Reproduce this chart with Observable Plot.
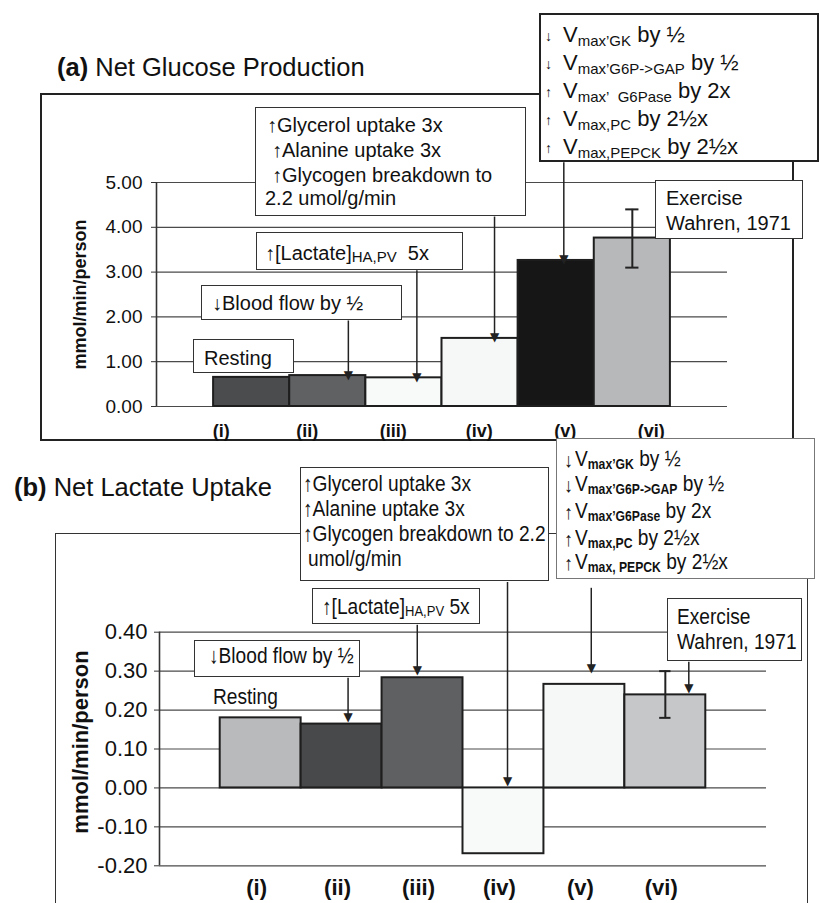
<!DOCTYPE html>
<html><head><meta charset="utf-8">
<script src="https://cdn.jsdelivr.net/npm/d3@7"></script>
<script src="https://cdn.jsdelivr.net/npm/@observablehq/plot@0.6"></script>
<style>
body{margin:0;background:#fff;font-family:"Liberation Sans",Arial,Helvetica,sans-serif;color:#111;}
#fig{position:relative;width:819px;height:903px;overflow:hidden;background:#fff;}
.box{position:absolute;background:#fff;box-sizing:border-box;border-style:solid;}
.t{position:absolute;white-space:nowrap;line-height:1;}
.n{transform:scaleX(0.87);transform-origin:0 0;}
.frame{position:absolute;box-sizing:border-box;border-style:solid;z-index:0;}
svg{position:absolute;left:0;z-index:1;}
</style></head><body><div id="fig"></div>
<script>
// ---------- data ----------
const categories = ["(i)", "(ii)", "(iii)", "(iv)", "(v)", "(vi)"];
const glucoseValues = [0.65, 0.69, 0.64, 1.52, 3.26, 3.76];   // mmol/min/person
const glucoseError = [3.10, 4.40];                              // (vi) low / high
const glucoseTicks = [0, 1, 2, 3, 4, 5];
const lactateValues = [0.18, 0.164, 0.283, -0.169, 0.266, 0.239];
const lactateError = [0.18, 0.30];
const lactateTicks = [-0.2, -0.1, 0, 0.1, 0.2, 0.3, 0.4];

// ---------- styles ----------
const colorsA = ["#4b4c4e", "#606163", "#f8f9f9", "#f6f7f7", "#161616", "#b7b8ba"];
const colorsB = ["#b9babc", "#48494b", "#5f6062", "#f8fafa", "#f6f8f8", "#c6c7c9"];
const FONT = "'Liberation Sans', Arial, Helvetica, sans-serif";

const fig = document.getElementById("fig");
const rowsA = categories.map((c, i) => ({c, i, v: glucoseValues[i]}));
const rowsB = categories.map((c, i) => ({c, i, v: lactateValues[i]}));
const iVI = categories.indexOf("(vi)") + 0.5;

// annotation arrows (box bottom -> bar)
const arrowsA = [
  {x: 1.77, y1: 1.92, y2: glucoseValues[1]},
  {x: 2.67, y1: 3.04, y2: glucoseValues[2]},
  {x: 3.69, y1: 4.24, y2: glucoseValues[3]},
  {x: 4.60, y1: 5.45, y2: glucoseValues[4]}
];
const arrowsB = [
  {x: 1.58, y1: 0.283, y2: 0.18},
  {x: 2.435, y1: 0.419, y2: 0.30},
  {x: 3.55, y1: 0.529, y2: 0.016},
  {x: 4.585, y1: 0.514, y2: 0.306},
  {x: 5.79, y1: 0.324, y2: 0.254}
];
const arrowMarks = (arr) => [
  Plot.link(arr, {x1: "x", x2: "x", y1: "y1", y2: "y2", stroke: "#222", strokeWidth: 1.5}),
  Plot.text(arr, {x: "x", y: "y2", text: () => "▼", fontSize: 12, lineAnchor: "bottom", dy: 3, fill: "#222", fontFamily: "'DejaVu Sans', sans-serif"})
];

const plotA = Plot.plot({
  width: 819, height: 445,
  marginLeft: 156, marginRight: 92, marginTop: 182, marginBottom: 39,
  style: {background: "transparent", overflow: "visible", fontFamily: FONT, color: "#111"},
  x: {domain: [-0.75, 6.75], axis: null},
  y: {domain: [0, 5]},
  marks: [
    Plot.ruleY(glucoseTicks, {stroke: "#4a4a4a", strokeWidth: 1.2}),
    Plot.rect(rowsA, {x1: "i", x2: d => d.i + 1, y1: 0, y2: "v", fill: d => colorsA[d.i], stroke: "#1e1e1e", strokeWidth: 2}),
    Plot.ruleX([-0.75], {y1: 0, y2: 5, stroke: "#333", strokeWidth: 1.6}),
    Plot.axisY(glucoseTicks, {tickFormat: d => d.toFixed(2), tickSize: 5, tickPadding: 9, fontSize: 19, label: null, stroke: "#333"}),
    Plot.ruleX([iVI], {y1: glucoseError[0], y2: glucoseError[1], stroke: "#222", strokeWidth: 2}),
    Plot.ruleY(glucoseError, {x1: iVI - 0.087, x2: iVI + 0.087, stroke: "#222", strokeWidth: 2}),
    ...arrowMarks(arrowsA),
    Plot.text(rowsA, {x: d => 0.1 + 1.13 * d.i, y: 0, dy: 25, text: "c", fontSize: 18, fontWeight: "bold"}),
    Plot.text(["mmol/min/person"], {frameAnchor: "left", dx: -76, rotate: -90, textAnchor: "middle", fontSize: 18, fontWeight: "bold"})
  ]
});
plotA.style.top = "0px";

const plotB = Plot.plot({
  width: 819, height: 458,
  marginLeft: 159, marginRight: 53, marginTop: 186.7, marginBottom: 37.7,
  style: {background: "transparent", overflow: "visible", fontFamily: FONT, color: "#111"},
  x: {domain: [-0.75, 6.75], axis: null},
  y: {domain: [-0.2, 0.4]},
  marks: [
    Plot.ruleY(lactateTicks, {stroke: "#4a4a4a", strokeWidth: 1.2}),
    Plot.rect(rowsB, {x1: "i", x2: d => d.i + 1, y1: 0, y2: "v", fill: d => colorsB[d.i], stroke: "#1e1e1e", strokeWidth: 2}),
    Plot.ruleX([-0.75], {y1: -0.2, y2: 0.4, stroke: "#333", strokeWidth: 1.6}),
    Plot.axisY(lactateTicks, {tickFormat: d => d.toFixed(2), tickSize: 5, tickPadding: 7, fontSize: 22, label: null, stroke: "#333"}),
    Plot.ruleX([iVI], {y1: lactateError[0], y2: lactateError[1], stroke: "#222", strokeWidth: 2}),
    Plot.ruleY(lactateError, {x1: iVI - 0.07, x2: iVI + 0.07, stroke: "#222", strokeWidth: 2}),
    ...arrowMarks(arrowsB),
    Plot.text(rowsB, {x: d => d.i + 0.45, y: -0.2, dy: 22, text: "c", fontSize: 22, fontWeight: "bold"}),
    Plot.text(["mmol/min/person"], {frameAnchor: "left", dx: -79, dy: -7, rotate: -90, textAnchor: "middle", fontSize: 22, fontWeight: "bold"})
  ]
});
plotB.style.top = "445px";

// ---------- overlay helpers ----------
function el(cls, css, html) {
  const e = document.createElement("div");
  e.className = cls;
  Object.assign(e.style, css);
  if (html != null) e.innerHTML = html;
  fig.appendChild(e);
  return e;
}
function frame(x, y, w, h, color, bw) {
  el("frame", {left: x + "px", top: y + "px", width: w + "px", height: h + "px", borderColor: color, borderWidth: bw + "px"});
}
function box(x, y, w, h, color = "#333", bw = 1.5) {
  el("box", {left: x + "px", top: y + "px", width: w + "px", height: h + "px", borderColor: color, borderWidth: bw + "px", zIndex: 2});
}
function txt(html, x, base, size, narrow = false, extra = {}) {
  el("t" + (narrow ? " n" : ""), Object.assign({left: x + "px", top: (base - 0.846 * size) + "px", fontSize: size + "px", zIndex: 3}, extra), html);
}
const sub = (s, size, drop, bold) => `<span style="font-size:${size}px;position:relative;top:${drop}px;${bold ? "font-weight:bold;" : ""}">${s}</span>`;

frame(40, 93, 754, 348, "#222", 2);
frame(55, 533, 753, 420, "#333", 1.5);
fig.appendChild(plotA);
fig.appendChild(plotB);

// ---------- panel (a) annotations ----------
txt("<b>(a)</b> Net Glucose Production", 57, 76.7, 25.5);
box(193, 339, 101, 34);
txt("Resting", 204, 365, 20);
box(201, 285, 201, 35);
txt("↓Blood flow by ½", 212, 310, 20);
box(256, 232, 207, 38);
txt("↑[Lactate]" + sub("HA,PV", 15, 2) + "&nbsp;&nbsp;5x", 265, 260, 20);
box(255, 107, 271, 109);
txt("↑Glycerol uptake 3x", 267, 131.7, 20);
txt("↑Alanine uptake 3x", 272, 156.7, 20);
txt("↑Glycogen breakdown to", 272, 181.7, 20);
txt("2.2 umol/g/min", 265, 205, 20);
box(539, 13, 280, 149, "#222", 2);
const vRowsA = [
  ["↓", "max’GK", "by ½"],
  ["↓", "max’G6P-&gt;GAP", "by ½"],
  ["↑", "max’&nbsp; G6Pase", "by 2x"],
  ["↑", "max,PC", "by 2½x"],
  ["↑", "max,PEPCK", "by 2½x"]
];
[43, 71, 99, 127, 155].forEach((b, k) => {
  txt(vRowsA[k][0], 545, b - 2, 14, false, {color: "#111"});
  txt("V" + sub(vRowsA[k][1], 15, 4) + " " + vRowsA[k][2], 563, b, 22);
});
box(655, 180, 148, 59);
txt("Exercise", 666, 205, 20);
txt("Wahren, 1971", 666, 230, 20);

// ---------- panel (b) annotations ----------
txt("<b>(b)</b> Net Lactate Uptake", 14, 496.7, 25.5);
box(300, 467, 249, 114);
txt("↑Glycerol uptake 3x", 303, 491.7, 22, true);
txt("↑Alanine uptake 3x", 303, 516.7, 22, true);
txt("↑Glycogen breakdown to 2.2", 303, 541.7, 22, true);
txt("umol/g/min", 308, 567, 22, true);
box(312, 588, 168, 36);
txt("↑[Lactate]" + sub("HA,PV", 15, 2) + " 5x", 322, 615, 22, true);
box(194, 640, 166, 37);
txt("↓Blood flow by ½", 209, 664, 22, true);
txt("Resting", 213, 705, 22, true);
box(556, 438, 259, 141, "#777", 1.5);
const vRowsB = [
  ["↓", "max’GK", "by ½"],
  ["↓", "max’G6P-&gt;GAP", "by ½"],
  ["↑", "max’G6Pase", "by 2x"],
  ["↑", "max,PC", "by 2½x"],
  ["↑", "max, PEPCK", "by 2½x"]
];
[467, 492, 519, 546, 570].forEach((b, k) => {
  txt(vRowsB[k][0], 564, b, 20, true, {color: "#111"});
  txt("V" + sub(vRowsB[k][1], 14, 3, true) + " " + vRowsB[k][2], 575, b, 22, true);
});
box(667, 598, 135, 63);
txt("Exercise", 677, 625, 22, true);
txt("Wahren, 1971", 677, 650, 22, true);
</script></body></html>
